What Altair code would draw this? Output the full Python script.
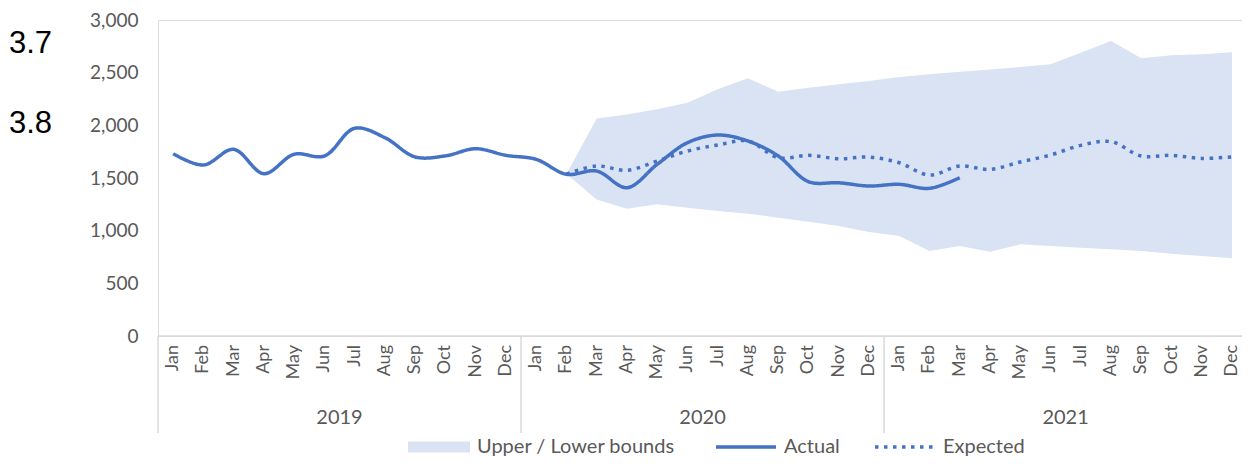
import altair as alt
import pandas as pd

# ---- data ----
month_names = ["Jan", "Feb", "Mar", "Apr", "May", "Jun", "Jul", "Aug", "Sep", "Oct", "Nov", "Dec"]
years = ["2019", "2020", "2021"]

# Actual: Jan 2019 .. Mar 2021
actual = [1731, 1623, 1772, 1541, 1725, 1709, 1972, 1883, 1700, 1710, 1778, 1715,
          1677, 1535, 1566, 1408, 1630, 1835, 1908, 1851, 1709, 1465, 1455, 1424,
          1440, 1402, 1503]

# Expected / bounds: Feb 2020 .. Dec 2021
forecast_start = 13
expected = [1538, 1614, 1573, 1661, 1756, 1813, 1851, 1693, 1715, 1683, 1699,
            1645, 1528, 1614, 1582, 1652, 1718, 1810, 1845, 1709, 1715, 1686, 1701]
upper = [1538, 2066, 2104, 2152, 2215, 2342, 2446, 2319, 2357, 2389, 2421,
         2459, 2484, 2509, 2531, 2554, 2579, 2690, 2800, 2636, 2665, 2674, 2695]
lower = [1538, 1297, 1208, 1250, 1218, 1187, 1161, 1123, 1085, 1044, 987,
         949, 807, 854, 800, 870, 854, 838, 823, 807, 781, 759, 737]

y_ticks = [0, 500, 1000, 1500, 2000, 2500, 3000]
side_labels = ["3.7", "3.8"]

# ---- tables ----
n_months = len(month_names) * len(years)
months_df = pd.DataFrame({
    "i": list(range(n_months)),
    "month": month_names * len(years),
})
years_df = pd.DataFrame({
    "year": years,
    "center": [k * 12 + 5.5 for k in range(len(years))],
})
divider_df = pd.DataFrame({"pos": [k * 12 - 0.5 for k in range(len(years))]})

band_df = pd.DataFrame({
    "i": list(range(forecast_start, forecast_start + len(upper))),
    "upper": upper,
    "lower": lower,
    "band": "Upper / Lower bounds",
})
lines_df = pd.concat([
    pd.DataFrame({"i": list(range(forecast_start, forecast_start + len(expected))),
                  "value": expected, "series": "Expected", "order": 0}),
    pd.DataFrame({"i": list(range(len(actual))), "value": actual,
                  "series": "Actual", "order": 1}),
])

# ---- styling ----
W, H = 1084, 316
FONT = "Lato"
GREY = "#595959"
LINE = "#4472c4"
BAND = "#dae3f3"
AXLINE = "#d9d9d9"

xscale = alt.Scale(domain=[-0.5, 35.33], nice=False, zero=False)
yscale = alt.Scale(domain=[0, 3000], nice=False)
yaxis = alt.Axis(values=y_ticks, format=",d", title=None, domain=False, ticks=False,
                 grid=False, labelFontSize=19, labelColor=GREY, labelFont=FONT,
                 labelPadding=20)

band = alt.Chart(band_df).mark_area(interpolate="linear").encode(
    x=alt.X("i:Q", scale=xscale, axis=None),
    y=alt.Y("upper:Q", scale=yscale, axis=yaxis),
    y2="lower:Q",
    fill=alt.Fill("band:N", scale=alt.Scale(domain=["Upper / Lower bounds"], range=[BAND]),
                  legend=alt.Legend(orient="none", legendX=250, legendY=396, title=None,
                                    direction="horizontal",
                                    symbolType="M-1,-0.18L1,-0.18L1,0.18L-1,0.18Z",
                                    symbolSize=3844, symbolStrokeWidth=0,
                                    labelFontSize=20, labelColor=GREY, labelFont=FONT,
                                    labelOffset=7, labelLimit=400, padding=0)),
)

line_legend = alt.Legend(orient="none", legendX=556, legendY=395, title=None,
                         direction="horizontal", symbolType="stroke", symbolSize=3600,
                         symbolStrokeWidth=3.5, labelFontSize=20, labelColor=GREY,
                         labelFont=FONT, labelOffset=6, labelLimit=400,
                         columnPadding=28, padding=0)

lines = alt.Chart(lines_df).mark_line(strokeWidth=3.5, interpolate="catmull-rom").encode(
    x=alt.X("i:Q", scale=xscale, axis=None),
    y=alt.Y("value:Q", scale=yscale, axis=yaxis),
    stroke=alt.Stroke("series:N", scale=alt.Scale(domain=["Actual", "Expected"],
                                                  range=[LINE, LINE]), legend=line_legend),
    strokeDash=alt.StrokeDash("series:N", scale=alt.Scale(domain=["Actual", "Expected"],
                                                          range=[[1, 0], [3.5, 5.5]]),
                              legend=line_legend),
    order=alt.Order("order:Q"),
)

top_line = alt.Chart(divider_df.head(1)).mark_rule(color=AXLINE, strokeWidth=1.5).encode(
    x=alt.value(0), x2=alt.value(W), y=alt.value(H))

dividers = alt.Chart(divider_df).mark_rule(color=AXLINE, strokeWidth=1.5).encode(
    x=alt.X("pos:Q", scale=xscale, axis=None), y=alt.value(H), y2=alt.value(H + 97))

month_text = alt.Chart(months_df).mark_text(angle=270, align="right", baseline="middle",
                                            fontSize=18, font=FONT, color=GREY).encode(
    x=alt.X("i:Q", scale=xscale, axis=None), y=alt.value(H + 9), text="month:N")

year_text = alt.Chart(years_df).mark_text(align="center", baseline="middle", fontSize=20,
                                          font=FONT, color=GREY).encode(
    x=alt.X("center:Q", scale=xscale, axis=None), y=alt.value(H + 82), text="year:N")

side = pd.DataFrame({"label": side_labels})
side1 = alt.Chart(side.head(1)).mark_text(align="left", baseline="middle", fontSize=31,
                                          font="Liberation Sans", color="#000000").encode(
    x=alt.value(-149), y=alt.value(24), text="label:N")
side2 = alt.Chart(side.tail(1)).mark_text(align="left", baseline="middle", fontSize=31,
                                          font="Liberation Sans", color="#000000").encode(
    x=alt.value(-149), y=alt.value(104), text="label:N")

chart = alt.layer(band, lines, top_line, dividers, month_text, year_text, side1, side2).properties(
    width=W, height=H,
    padding={"left": 150, "top": 12, "right": 0, "bottom": 120},
    autosize=alt.AutoSizeParams(type="none"),
).resolve_legend(fill="independent").configure_view(stroke=None).configure(background="white")

chart.save("out.html", embed_options={"renderer": "svg", "actions": False})
